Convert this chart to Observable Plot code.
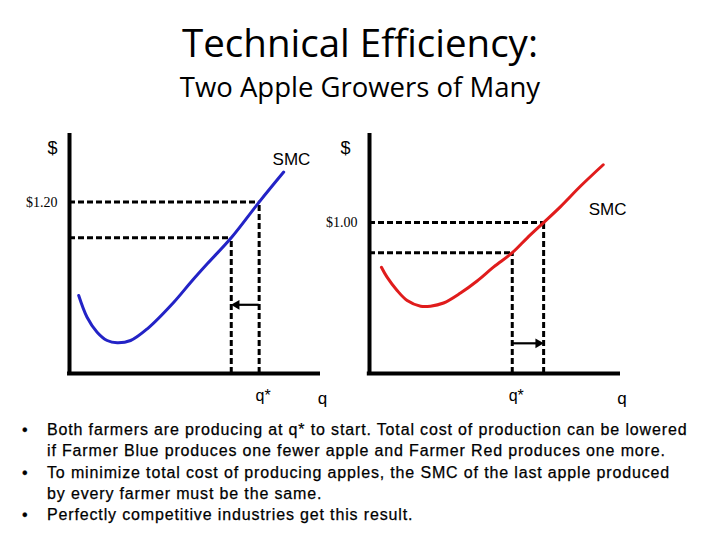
<!DOCTYPE html>
<html>
<head>
<meta charset="utf-8">
<script src="https://cdn.jsdelivr.net/npm/d3@7"></script>
<script src="https://cdn.jsdelivr.net/npm/@observablehq/plot@0.6"></script>
<style>
  html, body { margin: 0; padding: 0; background: #fff; }
  #page { position: relative; width: 720px; height: 540px; overflow: hidden; background: #fff; }
  .title { position: absolute; left: 0; width: 720px; text-align: center; font-family: "Open Sans", Lato, sans-serif; color: #000; white-space: nowrap; }
  #t1 { top: 16px; font-size: 38.5px; line-height: 1.362; }
  #t2 { top: 68px; font-size: 27.5px; line-height: 1.362; }
  #bullets { position: absolute; left: 0; top: 419px; width: 720px; font-family: "Liberation Sans", Arial, sans-serif; font-size: 16px; line-height: 21.3px; color: #000; letter-spacing: 0.85px; -webkit-text-stroke: 0.25px #000; }
  #bullets .ln { position: relative; padding-left: 47px; white-space: nowrap; height: 21.3px; }
  #bullets .b { position: absolute; left: 22px; }
  .panel { position: absolute; top: 120px; }
</style>
</head>
<body>
<div id="page">
  <div class="title" id="t1">Technical Efficiency:</div>
  <div class="title" id="t2">Two Apple Growers of Many</div>
  <div id="left" class="panel" style="left:0px"></div>
  <div id="right" class="panel" style="left:320px"></div>
  <div id="bullets"></div>
</div>
<script>
// ---- data ----
const farmers = ["Blue", "Red"];
const curveColors = ["#2323c6", "#e01c1c"];
// SMC curves (q, $)
const blueQ   = [0.33, 0.63, 0.99, 1.35, 1.71, 2.19, 2.79, 3.74, 4.35, 4.94, 5.80, 6.80, 7.68];
const blueSMC = [0.546, 0.394, 0.289, 0.231, 0.215, 0.231, 0.313, 0.499, 0.639, 0.768, 0.95, 1.20, 1.41];
const redQ    = [0.38, 0.56, 0.88, 1.20, 1.63, 1.94, 2.36, 2.90, 3.43, 3.96, 4.55, 5.03, 5.55, 6.09, 6.73, 7.45];
const redSMC  = [0.704, 0.638, 0.550, 0.484, 0.446, 0.446, 0.467, 0.533, 0.613, 0.706, 0.80, 0.899, 1.00, 1.106, 1.242, 1.383];
// q* and the one-apple move, with SMC at each
const startQ = [6.80, 4.55];
const startP = [1.20, 0.80];
const newQ   = [5.80, 5.55];
const newP   = [0.95, 1.00];
// price tick label per panel
const tickPrice  = [1.20, 1.00];
const tickLabels = ["$1.20", "$1.00"];
const xTickLabel = "q*";
const axisLabels = { y: "$", x: "q", curve: "SMC" };
// arrow height ($) per panel
const arrowP = [0.481, 0.20];
// axis extents per panel
const qMax = [9, 8];
const pMax = [1.68, 1.59];
// label anchors (data units) per panel
const dollarAt = [[-0.61, 1.575], [-0.765, 1.49]];
const smcAt    = [[7.96, 1.498], [7.59, 1.087]];
const qLabelAt = [9.07, 8.05];

const bulletLines = [
  ["•", "Both farmers are producing at q* to start. Total cost of production can be lowered"],
  ["",  "if Farmer Blue produces one fewer apple and Farmer Red produces one more."],
  ["•", "To minimize total cost of producing apples, the SMC of the last apple produced"],
  ["",  "by every farmer must be the same."],
  ["•", "Perfectly competitive industries get this result."]
];

function panel(i, xRange, width) {
  const qs = i === 0 ? blueQ : redQ;
  const ps = i === 0 ? blueSMC : redSMC;
  const curve = qs.map((q, k) => ({q, p: ps[k]}));
  const qa = startQ[i], pa = startP[i], qb = newQ[i], pb = newP[i];
  const dash = {stroke: "#000", strokeWidth: 3, strokeDasharray: "6,3"};
  const leftward = qb < qa;
  const sans = "Liberation Sans, Arial, sans-serif";
  return Plot.plot({
    width, height: 300,
    marginTop: 0, marginRight: 0, marginBottom: 0, marginLeft: 0,
    style: {background: "transparent", overflow: "visible"},
    x: {domain: [0, qMax[i]], range: xRange, axis: null},
    y: {domain: [0, pMax[i]], range: [253, 13], axis: null},
    marks: [
      // dashed guides
      Plot.ruleY([pa, pb], {x1: 0, x2: (d, j) => [qa, qb][j], ...dash}),
      Plot.ruleX([qa, qb], {y1: 0, y2: (d, j) => [pa, pb][j], ...dash}),
      // SMC curve
      Plot.line(curve, {x: "q", y: "p", stroke: curveColors[i], strokeWidth: 3, curve: "catmull-rom"}),
      // axes
      Plot.ruleX([0], {y1: 0, y2: pMax[i], stroke: "#000", strokeWidth: 4}),
      Plot.ruleY([0], {x1: -0.07, x2: qMax[i], stroke: "#000", strokeWidth: 4}),
      // arrow
      Plot.ruleY([arrowP[i]], {x1: qa, x2: leftward ? qb + 0.15 : qb - 0.15, stroke: "#000", strokeWidth: 2.2}),
      Plot.dot([qb], {x: d => d, y: arrowP[i], symbol: "triangle", r: 3.6, fill: "#000", stroke: "none",
                      rotate: leftward ? -90 : 90, dx: leftward ? 5.4 : -5.4}),
      // labels
      Plot.text([tickLabels[i]], {x: 0, y: tickPrice[i], text: d => d, textAnchor: "end", dx: -12,
                fontFamily: "Liberation Serif, Times New Roman, serif", fontSize: 14, fill: "#000"}),
      Plot.text([axisLabels.y], {x: dollarAt[i][0], y: dollarAt[i][1], text: d => d, fontFamily: sans, fontSize: 18, fill: "#000"}),
      Plot.text([axisLabels.curve], {x: smcAt[i][0], y: smcAt[i][1], text: d => d, fontFamily: sans, fontSize: 17, fill: "#000"}),
      Plot.text([xTickLabel], {x: qa, y: 0, text: d => d, dx: 4, dy: 22, fontFamily: sans, fontSize: 16, fill: "#000"}),
      Plot.text([axisLabels.x], {x: qLabelAt[i], y: 0, text: d => d, dy: 25, fontFamily: sans, fontSize: 17, fill: "#000"})
    ]
  });
}

document.getElementById("left").appendChild(panel(0, [69, 320], 335));
document.getElementById("right").appendChild(panel(1, [49, 300], 400));

const bl = document.getElementById("bullets");
for (const [b, t] of bulletLines) {
  const ln = document.createElement("div");
  ln.className = "ln";
  const s = document.createElement("span");
  s.className = "b"; s.textContent = b;
  ln.appendChild(s);
  ln.appendChild(document.createTextNode(t));
  bl.appendChild(ln);
}
</script>
</body>
</html>
